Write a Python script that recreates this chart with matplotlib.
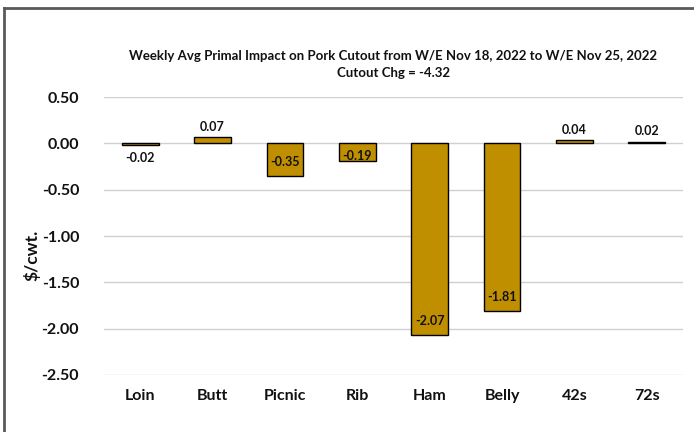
import numpy as np
import matplotlib.pyplot as plt
from matplotlib.lines import Line2D

plt.rcParams['font.family'] = ['Lato', 'DejaVu Sans']

# weekly primal impact on the pork cutout, $/cwt.
primals = ["Loin", "Butt", "Picnic", "Rib", "Ham", "Belly", "42s", "72s"]
impact = [-0.02, 0.07, -0.35, -0.19, -2.07, -1.81, 0.04, 0.02]
cutout_chg = -4.32

title = ("Weekly Avg Primal Impact on Pork Cutout from W/E Nov 18, 2022 to W/E Nov 25, 2022\n"
         f"Cutout Chg = {cutout_chg:.2f}")

fig = plt.figure(figsize=(6.94, 4.32), dpi=100)
ax = fig.add_axes([0.150, 0.132, 0.834, 0.643])

x = np.arange(len(primals))
ax.bar(x, impact, width=0.51, color="#BF8F00", edgecolor="black", linewidth=1.0, zorder=3)

for xi, v in zip(x, impact):
    if v >= 0:
        off, va = 3, "bottom"
    elif v > -0.05:
        off, va = -5, "top"
    elif v > -0.3:
        off, va = 3.5, "center"
    else:
        off, va = 10, "center"
    ax.annotate(f"{v:.2f}", (xi, v), xytext=(0, off), textcoords="offset points",
                ha="center", va=va, fontsize=9, fontweight="bold", color="#111111", zorder=4)

ax.set_xlim(-0.5, len(primals) - 0.5)
ax.set_ylim(-2.5, 0.5)
ax.set_yticks(np.arange(-2.5, 0.51, 0.5))
ax.yaxis.set_major_formatter(plt.FuncFormatter(lambda v, p: f"{v:.2f}"))
ax.set_xticks(x)
ax.set_xticklabels(primals)
ax.tick_params(axis='both', length=0, labelsize=11.5)
ax.tick_params(axis='y', pad=18)
ax.tick_params(axis='x', pad=10)
for lab in ax.get_xticklabels() + ax.get_yticklabels():
    lab.set_fontweight("bold")
    lab.set_color("#111111")

ax.yaxis.grid(True, color="#d0d0d0", linewidth=1.0, zorder=0)
for s in ax.spines.values():
    s.set_visible(False)

ax.set_ylabel("$/cwt.", fontsize=12.5, fontweight="bold", color="#111111")
ax.yaxis.set_label_coords(-0.11, 0.43)

fig.text(0.567, 0.85, title, ha="center", va="center", fontsize=9.5,
         fontweight="bold", color="#111111", linespacing=1.5)

# outer chart frame (top and left edges only)
fig.add_artist(Line2D([0.006, 0.006], [0.0, 0.981], color="#5a5a5a", linewidth=2.0))
fig.add_artist(Line2D([0.006, 1.0], [0.981, 0.981], color="#5a5a5a", linewidth=2.0))

plt.savefig("out.png", dpi=100)
